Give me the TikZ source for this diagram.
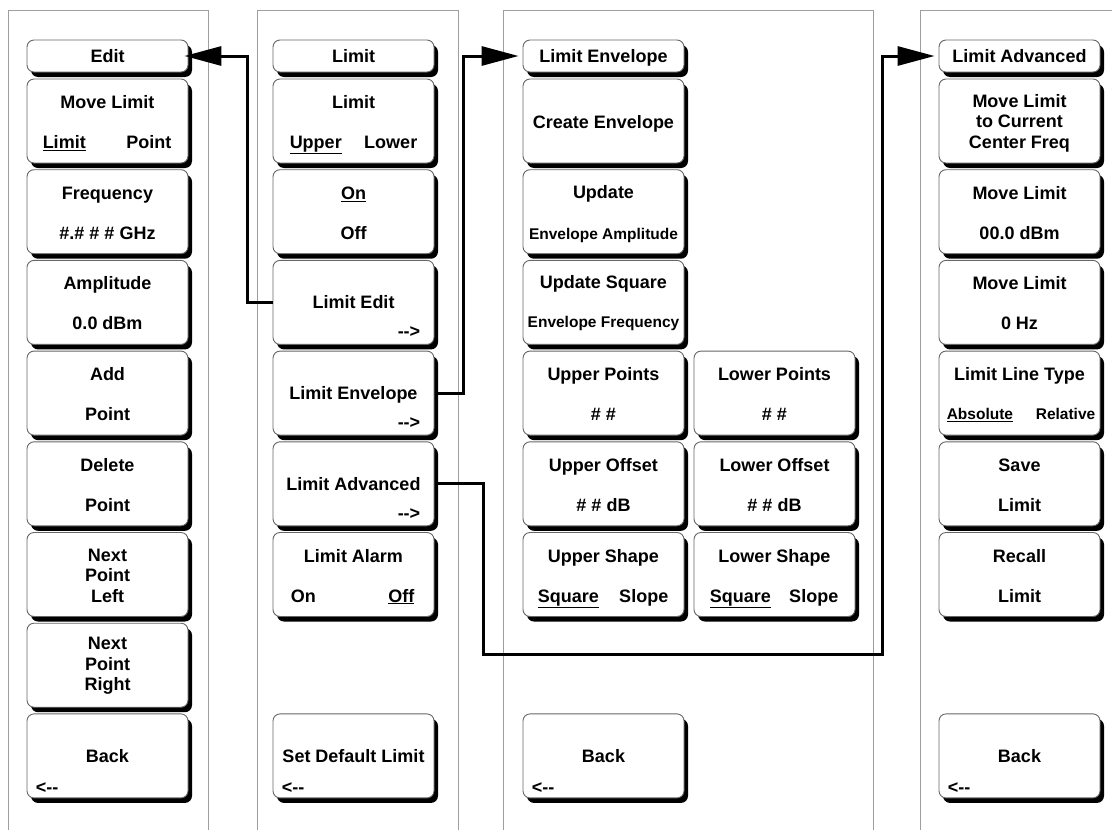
\documentclass[tikz,border=0pt]{standalone}
\usepackage{fontspec}
\setmainfont{Liberation Sans}
\usetikzlibrary{arrows.meta,calc,shadows}
\newcommand\fmain{\fontsize{18}{20.5}\selectfont\bfseries}
\newcommand\fsmall{\fontsize{15.5}{18}\selectfont\bfseries}
\begin{document}
\begin{tikzpicture}[x=1pt,y=-1pt,
  panel/.style={draw=black!38, line width=1pt},
  box/.style={draw=black!60, line width=0.9pt, fill=white, rounded corners=7pt,
    minimum width=161pt, inner sep=0pt,
    drop shadow={shadow xshift=4pt, shadow yshift=-5pt, fill=black, opacity=1}},
  btn/.style={box, minimum height=84pt},
  hdr/.style={box, minimum height=32pt, font=\fmain, text height=13pt, text depth=0pt},
  t/.style={font=\fmain, inner sep=0pt, anchor=base},
  ts/.style={font=\fsmall, inner sep=0pt, anchor=base},
  tm/.style={font=\fmain, inner sep=0pt, align=center, anchor=center},
  go/.style={font=\fmain, inner sep=0pt, anchor=base east},
  bk/.style={font=\fmain, inner sep=0pt, anchor=base west},
  arr/.style={line width=3pt, -{Triangle[length=37pt,width=19pt]}},
]
\useasboundingbox (0,0) rectangle (1112,830);
% panels
\draw[panel] (8,830) -- (8,10) -- (208,10) -- (208,830);
\draw[panel] (257,830) -- (257,10) -- (458,10) -- (458,830);
\draw[panel] (503,830) -- (503,10) -- (873,10) -- (873,830);
\draw[panel] (920,830) -- (920,10) -- (1112,10);

% ---------- column 1 ----------
\node[hdr] (e0) at (107.5,56) {Edit};
\node[btn] (e1) at (107.5,121) {};
\node[t] (e1a) at ($(e1.north)+(0,30)$) {Move Limit};
\node[bk] (e1b) at ($(e1.north west)+(16,70)$) {\underline{Limit}};
\node[go] (e1c) at ($(e1.north east)+(-17,70)$) {Point};
\node[btn] (e2) at (107.5,211.7) {};
\node[t] (e2a) at ($(e2.north)+(0,30)$) {Frequency};
\node[t] (e2b) at ($(e2.north)+(0,70)$) {\#.\# \# \# GHz};
\node[btn] (e3) at (107.5,302.4) {};
\node[t] (e3a) at ($(e3.north)+(0,30)$) {Amplitude};
\node[t] (e3b) at ($(e3.north)+(0,70)$) {0.0 dBm};
\node[btn] (e4) at (107.5,393.1) {};
\node[t] (e4a) at ($(e4.north)+(0,30)$) {Add};
\node[t] (e4b) at ($(e4.north)+(0,70)$) {Point};
\node[btn] (e5) at (107.5,483.8) {};
\node[t] (e5a) at ($(e5.north)+(0,30)$) {Delete};
\node[t] (e5b) at ($(e5.north)+(0,70)$) {Point};
\node[btn] (e6) at (107.5,574.5) {};
\node[tm] (e6a) at ($(e6.center)+(0,1)$) {Next\\Point\\Left};
\node[btn] (e7) at (107.5,665.2) {};
\node[tm] (e7a) at ($(e7.center)+(0,1)$) {Next\\Point\\Right};
\node[btn] (e8) at (107.5,755.9) {};
\node[t] (e8a) at ($(e8.north)+(0,49)$) {Back};
\node[bk] (e8b) at ($(e8.north west)+(9,80)$) {<{}-{}-};

% ---------- column 2 ----------
\node[hdr] (l0) at (353.5,56) {Limit};
\node[btn] (l1) at (353.5,121) {};
\node[t] (l1a) at ($(l1.north)+(0,30)$) {Limit};
\node[bk] (l1b) at ($(l1.north west)+(17,70)$) {\underline{Upper}};
\node[go] (l1c) at ($(l1.north east)+(-17,70)$) {Lower};
\node[btn] (l2) at (353.5,211.7) {};
\node[t] (l2a) at ($(l2.north)+(0,30)$) {\underline{On}};
\node[t] (l2b) at ($(l2.north)+(0,70)$) {Off};
\node[btn] (l3) at (353.5,302.4) {};
\node[t] (l3a) at ($(l3.north)+(0,49)$) {Limit Edit};
\node[go] (l3b) at ($(l3.north east)+(-14,78)$) {-{}-{}>};
\node[btn] (l4) at (353.5,393.1) {};
\node[t] (l4a) at ($(l4.north)+(0,49)$) {Limit Envelope};
\node[go] (l4b) at ($(l4.north east)+(-14,78)$) {-{}-{}>};
\node[btn] (l5) at (353.5,483.8) {};
\node[t] (l5a) at ($(l5.north)+(0,49)$) {Limit Advanced};
\node[go] (l5b) at ($(l5.north east)+(-14,78)$) {-{}-{}>};
\node[btn] (l6) at (353.5,574.5) {};
\node[t] (l6a) at ($(l6.north)+(0,30)$) {Limit Alarm};
\node[bk] (l6b) at ($(l6.north west)+(18,70)$) {On};
\node[go] (l6c) at ($(l6.north east)+(-20,70)$) {\underline{Off}};
\node[btn] (l7) at (353.5,755.9) {};
\node[t] (l7a) at ($(l7.north)+(0,49)$) {Set Default Limit};
\node[bk] (l7b) at ($(l7.north west)+(9,80)$) {<{}-{}-};

% ---------- column 3 ----------
\node[hdr] (v0) at (603.5,56) {Limit Envelope};
\node[btn] (v1) at (603.5,121) {};
\node[t] (v1a) at ($(v1.north)+(0,50)$) {Create Envelope};
\node[btn] (v2) at (603.5,211.7) {};
\node[t] (v2a) at ($(v2.north)+(0,29)$) {Update};
\node[ts] (v2b) at ($(v2.north)+(0,70)$) {Envelope Amplitude};
\node[btn] (v3) at (603.5,302.4) {};
\node[t] (v3a) at ($(v3.north)+(0,29)$) {Update Square};
\node[ts] (v3b) at ($(v3.north)+(0,68)$) {Envelope Frequency};
\node[btn] (v4) at (603.5,393.1) {};
\node[t] (v4a) at ($(v4.north)+(0,30)$) {Upper Points};
\node[t] (v4b) at ($(v4.north)+(0,70)$) {\# \#};
\node[btn] (v5) at (603.5,483.8) {};
\node[t] (v5a) at ($(v5.north)+(0,30)$) {Upper Offset};
\node[t] (v5b) at ($(v5.north)+(0,70)$) {\# \# dB};
\node[btn] (v6) at (603.5,574.5) {};
\node[t] (v6a) at ($(v6.north)+(0,30)$) {Upper Shape};
\node[bk] (v6b) at ($(v6.north west)+(15,70)$) {\underline{Square}};
\node[go] (v6c) at ($(v6.north east)+(-16,70)$) {Slope};
\node[btn] (v7) at (603.5,755.9) {};
\node[t] (v7a) at ($(v7.north)+(0,49)$) {Back};
\node[bk] (v7b) at ($(v7.north west)+(9,80)$) {<{}-{}-};

\node[btn] (w4) at (774.5,393.1) {};
\node[t] (w4a) at ($(w4.north)+(0,30)$) {Lower Points};
\node[t] (w4b) at ($(w4.north)+(0,70)$) {\# \#};
\node[btn] (w5) at (774.5,483.8) {};
\node[t] (w5a) at ($(w5.north)+(0,30)$) {Lower Offset};
\node[t] (w5b) at ($(w5.north)+(0,70)$) {\# \# dB};
\node[btn] (w6) at (774.5,574.5) {};
\node[t] (w6a) at ($(w6.north)+(0,30)$) {Lower Shape};
\node[bk] (w6b) at ($(w6.north west)+(16,70)$) {\underline{Square}};
\node[go] (w6c) at ($(w6.north east)+(-17,70)$) {Slope};

% ---------- column 4 ----------
\node[hdr] (a0) at (1019.5,56) {Limit Advanced};
\node[btn] (a1) at (1019.5,121) {};
\node[tm] (a1a) at ($(a1.center)+(0,2)$) {Move Limit\\to Current\\Center Freq};
\node[btn] (a2) at (1019.5,211.7) {};
\node[t] (a2a) at ($(a2.north)+(0,30)$) {Move Limit};
\node[t] (a2b) at ($(a2.north)+(0,70)$) {00.0 dBm};
\node[btn] (a3) at (1019.5,302.4) {};
\node[t] (a3a) at ($(a3.north)+(0,30)$) {Move Limit};
\node[t] (a3b) at ($(a3.north)+(0,70)$) {0 Hz};
\node[btn] (a4) at (1019.5,393.1) {};
\node[t] (a4a) at ($(a4.north)+(0,30)$) {Limit Line Type};
\node[ts, anchor=base west] (a4b) at ($(a4.north west)+(8,69)$) {\underline{Absolute}};
\node[ts, anchor=base east] (a4c) at ($(a4.north east)+(-5,69)$) {Relative};
\node[btn] (a5) at (1019.5,483.8) {};
\node[t] (a5a) at ($(a5.north)+(0,30)$) {Save};
\node[t] (a5b) at ($(a5.north)+(0,70)$) {Limit};
\node[btn] (a6) at (1019.5,574.5) {};
\node[t] (a6a) at ($(a6.north)+(0,30)$) {Recall};
\node[t] (a6b) at ($(a6.north)+(0,70)$) {Limit};
\node[btn] (a7) at (1019.5,755.9) {};
\node[t] (a7a) at ($(a7.north)+(0,49)$) {Back};
\node[bk] (a7b) at ($(a7.north west)+(9,80)$) {<{}-{}-};

% ---------- connectors ----------
\coordinate (k1) at (483,654);
\coordinate (k2) at (882,654);
\draw[arr, shorten >=-4pt] (l3.west) -- ++(-25,0) |- (e0.east);
\draw[arr, shorten >=4pt] ($(l4.east)+(4,0)$) -- ++(25,0) |- (v0.west);
\draw[arr, shorten >=4pt] ($(l5.east)+(4,0)$) -| (k1) -- (k2) |- (a0.west);
\end{tikzpicture}
\end{document}
